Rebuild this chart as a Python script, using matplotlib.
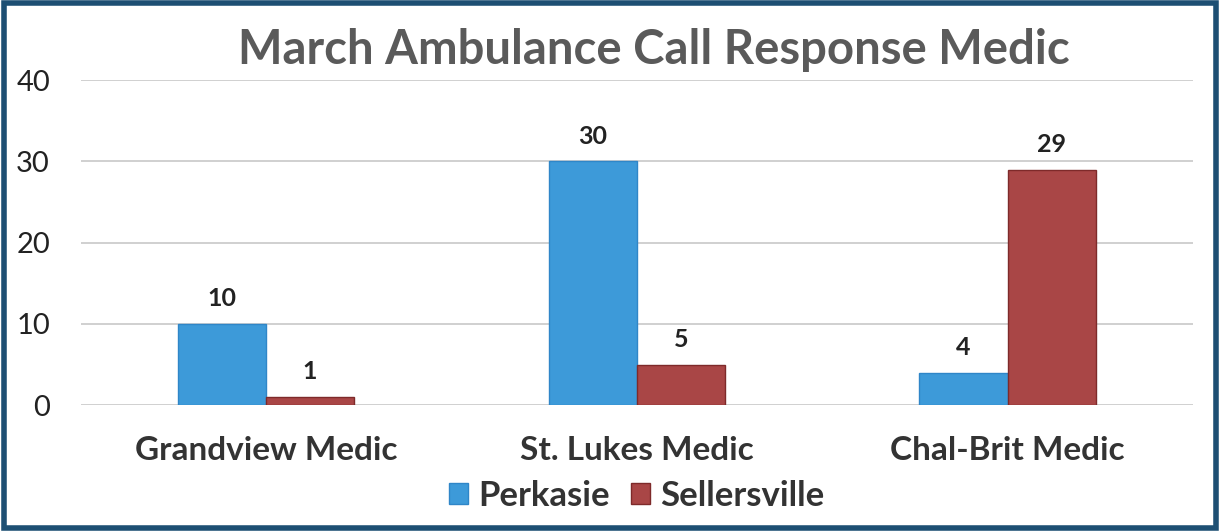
import numpy as np
import matplotlib.pyplot as plt
from matplotlib.patches import Rectangle

# data
categories = ['Grandview Medic', 'St. Lukes Medic', 'Chal-Brit Medic']
perkasie = [10, 30, 4]
sellersville = [1, 5, 29]
y_ticks = [0, 10, 20, 30, 40]

plt.rcParams['font.family'] = ['Lato', 'DejaVu Sans']

fig = plt.figure(figsize=(12.2, 5.31), dpi=100)
ax = fig.add_axes([0.066, 0.237, 0.912, 0.612])

x = np.arange(len(categories))
w = 0.238
b1 = ax.bar(x - w / 2, perkasie, w, color='#3d9ad9', edgecolor='#2f86c8', linewidth=1, label='Perkasie', zorder=3)
b2 = ax.bar(x + w / 2, sellersville, w, color='#a94646', edgecolor='#7e2a2a', linewidth=1, label='Sellersville', zorder=3)

for bars in (b1, b2):
    for r in bars:
        ax.annotate(str(int(r.get_height())), (r.get_x() + r.get_width() / 2, r.get_height()),
                    xytext=(0, 10), textcoords='offset points', ha='center', va='bottom',
                    fontsize=18, fontweight='bold', color='#222222')

ax.set_xlim(-0.5, 2.5)
ax.set_ylim(0, 40)
ax.set_yticks(y_ticks)
ax.set_yticklabels([str(t) for t in y_ticks], fontsize=21, color='#222222')
ax.set_xticks(x)
ax.set_xticklabels(categories, fontsize=24, fontweight='bold', color='#333333')
ax.tick_params(axis='y', length=0, pad=22)
ax.tick_params(axis='x', length=0, pad=22)
ax.grid(axis='y', color='#c8c8c8', linewidth=1.2, zorder=0)
for s in ax.spines.values():
    s.set_visible(False)

fig.text(0.536, 0.905, 'March Ambulance Call Response Medic', ha='center', va='center',
         fontsize=34, fontweight='bold', color='#5a5a5a')

ax.legend(loc='center', bbox_to_anchor=(0.5, -0.28), ncol=2, frameon=False,
          handlelength=0.55, handleheight=0.55, handletextpad=0.3,
          columnspacing=0.6, prop={'weight': 'bold', 'size': 25})
leg = ax.get_legend()
for t in leg.get_texts():
    t.set_color('#333333')

fig.patches.append(Rectangle((0.003, 0.006), 0.994, 0.988, transform=fig.transFigure,
                             fill=False, edgecolor='#1d4f73', linewidth=4))

fig.savefig('out.png', dpi=100, facecolor='white')
